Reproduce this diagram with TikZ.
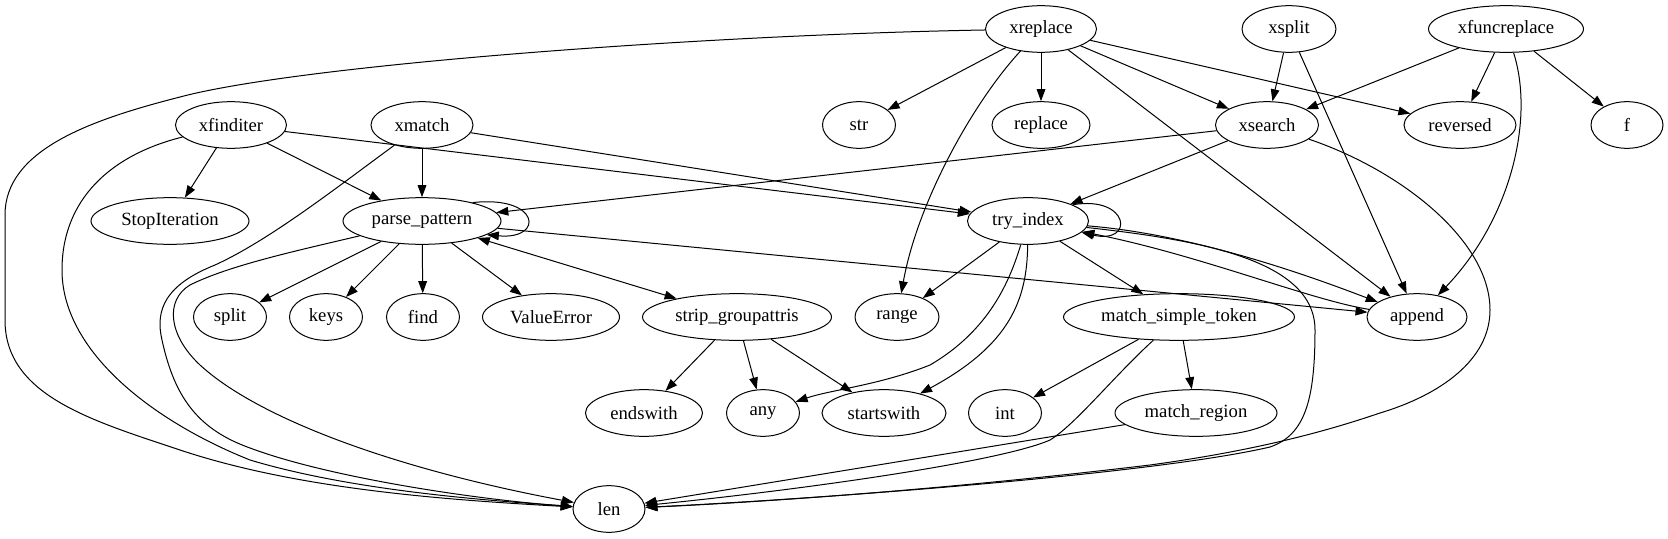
\documentclass[tikz,border=0pt]{standalone}
\usepackage{fontspec}
\setmainfont{Liberation Serif}
\usetikzlibrary{shapes.geometric,arrows.meta}
\begin{document}
\begin{tikzpicture}[x=0.75pt,y=-0.75pt,
  nd/.style={draw,ellipse,inner sep=0pt,minimum height=35pt,font=\fontsize{14}{16}\selectfont,line width=0.75pt},
  w/.style={minimum width=#1*0.75pt},
  arr/.style={draw,line width=0.75pt,-{Triangle[length=9pt,width=6.5pt]}},
  arrb/.style={draw,line width=0.75pt,{Triangle[length=9pt,width=6.5pt]}-{Triangle[length=9pt,width=6.5pt]}}]
\useasboundingbox (0,0) rectangle (1668,539);
% rank 1
\node[nd,w=111] (xreplace) at (1041,29) {xreplace};
\node[nd,w=94] (xsplit) at (1289,29) {xsplit};
\node[nd,w=155] (xfuncreplace) at (1506,29) {xfuncreplace};
% rank 2
\node[nd,w=111] (xfinditer) at (231,125) {xfinditer};
\node[nd,w=102] (xmatch) at (422,125) {xmatch};
\node[nd,w=73] (str) at (859,125) {str};
\node[nd,w=98] (replace) at (1041,125) {replace};
\node[nd,w=103] (xsearch) at (1267,125) {xsearch};
\node[nd,w=112] (reversed) at (1460,125) {reversed};
\node[nd,w=72] (f) at (1627,125) {f};
% rank 3
\node[nd,w=158] (StopIteration) at (170,221) {StopIteration};
\node[nd,w=158] (pp) at (422,221) {parse\_pattern};
\node[nd,w=121] (ti) at (1028,221) {try\_index};
% rank 4
\node[nd,w=73] (split) at (230,317) {split};
\node[nd,w=73] (keys) at (326,317) {keys};
\node[nd,w=73] (find) at (423,317) {find};
\node[nd,w=137] (ValueError) at (551,317) {ValueError};
\node[nd,w=189] (sga) at (737,317) {strip\_groupattris};
\node[nd,w=84] (range) at (897,317) {range};
\node[nd,w=231] (mst) at (1179,317) {match\_simple\_token};
\node[nd,w=100] (append) at (1417,317) {append};
% rank 5
\node[nd,w=117] (endswith) at (644,413) {endswith};
\node[nd,w=73] (any) at (763,413) {any};
\node[nd,w=124] (startswith) at (884,413) {startswith};
\node[nd,w=73] (int) at (1005,413) {int};
\node[nd,w=162] (mr) at (1196,413) {match\_region};
% rank 6
\node[nd,w=72] (len) at (609,509) {len};

% xreplace
\draw[arr] (xreplace) -- (str);
\draw[arr] (xreplace) -- (replace);
\draw[arr] (xreplace) -- (xsearch);
\draw[arr] (xreplace) -- (reversed);
\draw[arr] (xreplace) -- (append);
\draw[arr] (xreplace) .. controls (975,100) and (918,200) .. (range);
\draw[arr] (xreplace) .. controls (700,35) and (300,65) .. (180,97)
  .. controls (90,120) and (5,150) .. (5,215) -- (5,320)
  .. controls (5,395) and (90,420) .. (180,450)
  .. controls (300,490) and (450,500) .. (len);
% xsplit
\draw[arr] (xsplit) -- (xsearch);
\draw[arr] (xsplit) -- (append);
% xfuncreplace
\draw[arr] (xfuncreplace) -- (xsearch);
\draw[arr] (xfuncreplace) -- (reversed);
\draw[arr] (xfuncreplace) -- (f);
\draw[arr] (xfuncreplace) .. controls (1535,120) and (1510,220) .. (append);
% xfinditer
\draw[arr] (xfinditer) -- (StopIteration);
\draw[arr] (xfinditer) -- (pp);
\draw[arr] (xfinditer) -- (ti);
\draw[arr] (xfinditer) .. controls (110,155) and (62,200) .. (62,270)
  .. controls (62,350) and (150,420) .. (250,460)
  .. controls (350,490) and (480,500) .. (len);
% xmatch
\draw[arr] (xmatch) -- (pp);
\draw[arr] (xmatch) -- (ti);
\draw[arr] (xmatch) .. controls (340,185) and (270,240) .. (215,265)
  .. controls (165,285) and (155,310) .. (162,340)
  .. controls (175,400) and (200,430) .. (250,448)
  .. controls (330,478) and (480,500) .. (len);
% xsearch
\draw[arr] (xsearch) -- (pp);
\draw[arr] (xsearch) -- (ti);
\draw[arr] (xsearch) .. controls (1400,170) and (1490,240) .. (1490,310)
  .. controls (1490,360) and (1440,395) .. (1380,413)
  .. controls (1330,430) and (1260,450) .. (1150,465)
  .. controls (900,495) and (700,505) .. (len);
% parse_pattern
\draw[arr] (pp.20) .. controls (540,195) and (545,240) .. (pp.-12);
\draw[arr] (pp) -- (split);
\draw[arr] (pp) -- (keys);
\draw[arr] (pp) -- (find);
\draw[arr] (pp) -- (ValueError);
\draw[arrb] (pp) -- (sga);
\draw[arr] (pp) -- (append);
\draw[arr] (pp) .. controls (300,250) and (230,265) .. (190,285)
  .. controls (165,300) and (168,335) .. (200,365)
  .. controls (260,420) and (400,470) .. (len);
% strip_groupattris
\draw[arr] (sga) -- (endswith);
\draw[arr] (sga) -- (any);
\draw[arr] (sga) -- (startswith);
% try_index
\draw[arr] (ti.20) .. controls (1130,195) and (1135,245) .. (ti.-12);
\draw[arr] (ti) -- (range);
\draw[arr] (ti) -- (mst);
\draw[arr] (ti) .. controls (1200,235) and (1320,280) .. (append);
\draw[arr] (append) .. controls (1310,300) and (1200,255) .. (ti);
\draw[arr] (ti) .. controls (1010,280) and (990,330) .. (930,365)
  .. controls (880,385) and (830,390) .. (any);
\draw[arr] (ti) .. controls (1027,300) and (1010,345) .. (startswith);
\draw[arr] (ti) .. controls (1200,240) and (1315,260) .. (1315,330)
  .. controls (1315,400) and (1305,435) .. (1270,447)
  .. controls (1150,475) and (800,500) .. (len);
% match_simple_token
\draw[arr] (mst) -- (int);
\draw[arr] (mst) -- (mr);
\draw[arr] (mst) .. controls (1115,375) and (1075,425) .. (1050,440)
  .. controls (1000,462) and (800,490) .. (len);
% match_region
\draw[arr] (mr) -- (len);
\end{tikzpicture}
\end{document}
